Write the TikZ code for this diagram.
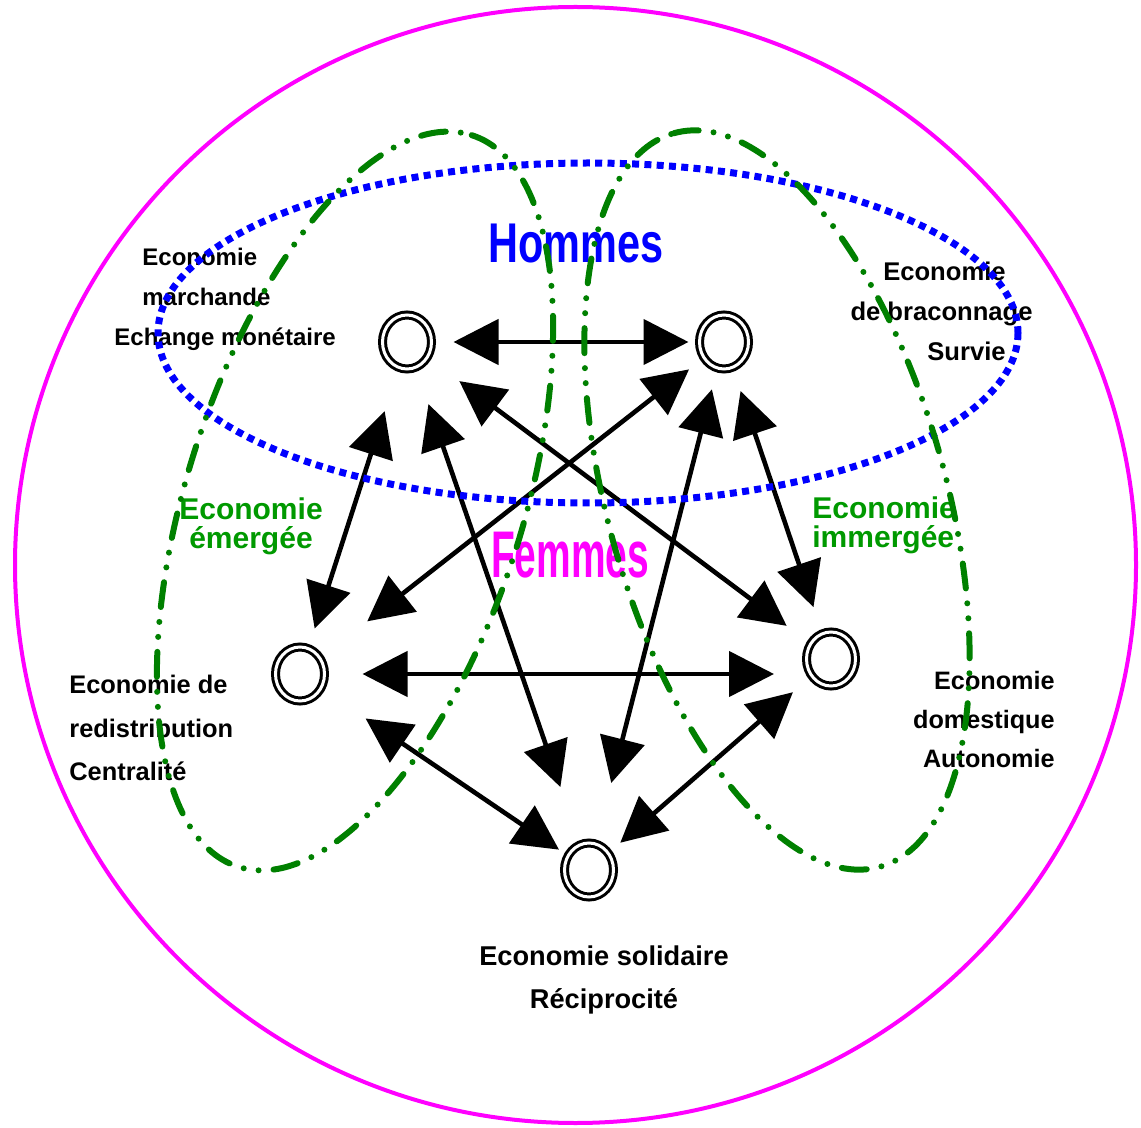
\documentclass[tikz,border=0pt]{standalone}
\usepackage{fontspec}
\setmainfont{Liberation Sans}
\newfontfamily\hommesfont{Liberation Sans}[FakeStretch=0.74]
\newfontfamily\femmesfont{Liberation Sans}[FakeStretch=0.59]
\usetikzlibrary{arrows.meta,shapes.geometric}
\definecolor{ellgreen}{RGB}{0,128,0}
\definecolor{txtgreen}{RGB}{0,153,0}
\definecolor{circmag}{RGB}{255,0,255}
\definecolor{dotblue}{RGB}{0,0,255}

\begin{document}
\begin{tikzpicture}[
        x=0.5pt, y=-0.5pt,
        econ/.style={ellipse, draw, double, line width=1.5pt, double distance=1.5pt, minimum width=24.5pt, minimum height=27pt, inner sep=0pt, outer sep=0pt},
        arrow/.style={<->, >={Triangle[length=22.5pt, width=22.5pt]}, line width=2.3pt},
        lab/.style={font=\bfseries\fontsize{12}{20}\selectfont, inner sep=0pt},
        glab/.style={font=\bfseries\fontsize{15}{14.5}\selectfont, text=txtgreen, inner sep=0pt},
        greenell/.style={ellgreen, line width=3pt, line cap=round, dash pattern=on 12.5pt off 7.5pt on 0pt off 7.5pt on 0pt off 7.5pt},
        blueell/.style={dotblue, line width=3.5pt, dash pattern=on 3.5pt off 2.65pt}
    ]
        \useasboundingbox (0,0) rectangle (1141,1128);

        % Outer circle
        \draw[circmag, line width=2pt] (575.5,565) ellipse [x radius=560.5, y radius=558];

        % Economies
        \node[econ] (march) at (407,342) {};
        \node[econ] (bracon) at (724,342) {};
        \node[econ] (redist) at (300,674) {};
        \node[econ] (domest) at (831,659) {};
        \node[econ] (solid) at (589,870) {};

        % Exchanges
        \draw[arrow, shorten <=11pt, shorten >=5.5pt] (march) -- (bracon);
        \draw[arrow, shorten <=23pt, shorten >=10.5pt] (march) -- (redist);
        \draw[arrow, shorten <=19.5pt, shorten >=30.5pt] (march) -- (solid);
        \draw[arrow, shorten <=20pt, shorten >=15pt] (march) -- (domest);
        \draw[arrow, shorten <=9.5pt, shorten >=30pt] (bracon) -- (redist);
        \draw[arrow, shorten <=11pt, shorten >=31.5pt] (bracon) -- (solid);
        \draw[arrow, shorten <=12.5pt, shorten >=14pt] (bracon) -- (domest);
        \draw[arrow, shorten <=19pt, shorten >=28.5pt] (redist) -- (redist -| domest);
        \draw[arrow, shorten <=27pt, shorten >=5.5pt] (redist) -- (solid);
        \draw[arrow, shorten <=12.5pt, shorten >=8pt] (domest) -- (solid);

        % Labels
        \node[lab, anchor=north west, align=left] (tmarch) at (142,248) {Economie\\marchande\\\hspace*{-14pt}Echange monétaire};
        \node[lab, font=\bfseries\fontsize{12.8}{20}\selectfont, anchor=north east, align=right] (tbracon) at (1006,262) {Economie\\de braconnage\kern-13.5pt\\Survie};
        \node[lab, font=\bfseries\fontsize{12.7}{21.75}\selectfont, anchor=north west, align=left] (tredist) at (69,675) {Economie de\\redistribution\\Centralité};
        \node[lab, font=\bfseries\fontsize{12.6}{19.5}\selectfont, anchor=north east, align=right] (tdomest) at (1055,671) {Economie\\domestique\\Autonomie};
        \node[lab, font=\bfseries\fontsize{13.6}{21.5}\selectfont, anchor=north, align=center] (tsolid) at (604,945) {Economie solidaire\\Réciprocité};

        \node[glab, anchor=north, align=center] (temerg) at (251,497) {Economie\\émergée};
        \node[glab, anchor=north west, align=left] (timmerg) at (812,496) {Economie\\immergée};

        \node[text=circmag, font=\femmesfont\bfseries\fontsize{33}{35}\selectfont, anchor=base, inner sep=0pt] (femmes) at (570,577) {Femmes};
        \node[text=dotblue, font=\hommesfont\bfseries\fontsize{28}{30}\selectfont, anchor=base, inner sep=0pt] (hommes) at (576,263) {Hommes};

        % Hommes / economies emergee et immergee
        \draw[blueell] (588,333) ellipse [x radius=430, y radius=170];
        \draw[greenell, rotate around={72.3:(355,501)}] (355,501) ellipse [x radius=384, y radius=168];
        \draw[greenell, rotate around={105.7:(777,500)}] (777,500) ellipse [x radius=381, y radius=169];
    \end{tikzpicture}
\end{document}
